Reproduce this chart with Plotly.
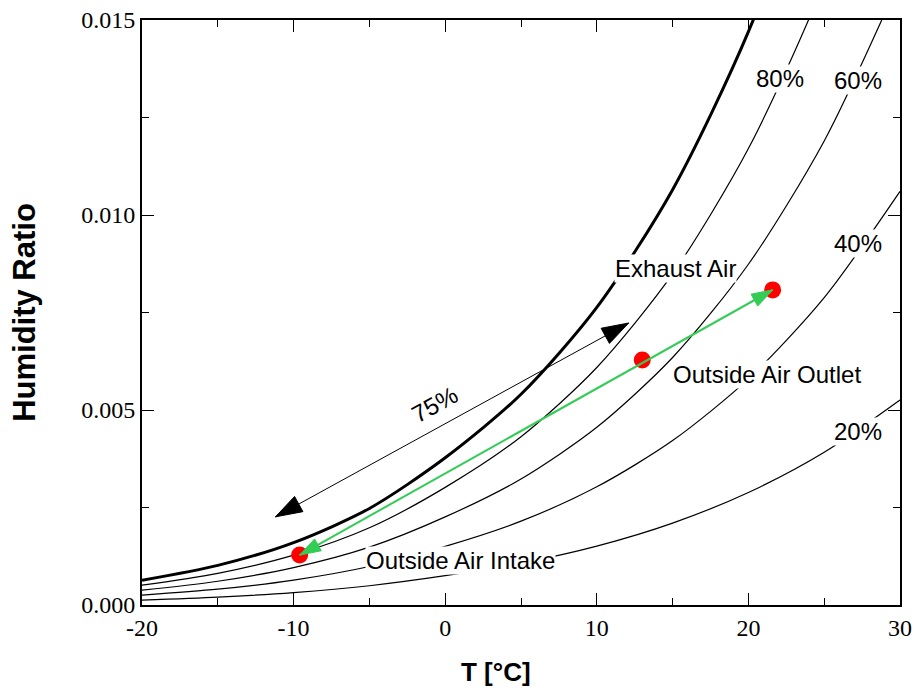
import plotly.graph_objects as go

# Temperatures [°C]
T = [-20, -15, -10, -5, 0, 5, 10, 15, 20, 25, 30]

# Humidity ratio curves
w_100 = [0.000634, 0.001016, 0.001600, 0.002476, 0.003775, 0.005403, 0.007631, 0.010649, 0.014700, 0.020087, 0.027205]
w_80 = [0.000507, 0.000813, 0.001279, 0.001979, 0.003016, 0.004315, 0.006090, 0.008490, 0.011704, 0.015967, 0.021575]
w_60 = [0.000380, 0.000609, 0.000959, 0.001483, 0.002259, 0.003231, 0.004557, 0.006346, 0.008737, 0.011899, 0.016042]
w_40 = [0.000254, 0.000406, 0.000639, 0.000988, 0.001504, 0.002150, 0.003030, 0.004216, 0.005798, 0.007882, 0.010604]
w_20 = [0.000127, 0.000203, 0.000319, 0.000494, 0.000751, 0.001073, 0.001511, 0.002101, 0.002885, 0.003916, 0.005257]

# State points
pt_T = [-9.6, 13.0, 21.6]
pt_w = [0.00128, 0.00628, 0.00808]

# Exhaust arrow (75 %)
arr_T = [-11.2, 12.1]
arr_w = [0.00226, 0.00723]

x_ticks = [-20, -10, 0, 10, 20, 30]
y_ticks = [0.000, 0.005, 0.010, 0.015]

fig = go.Figure()
for w, lw in [(w_100, 3), (w_80, 1.2), (w_60, 1.2), (w_40, 1.2), (w_20, 1.2)]:
    fig.add_trace(go.Scatter(x=T, y=w, mode="lines",
                             line=dict(color="black", width=lw, shape="spline", smoothing=0.8),
                             showlegend=False, hoverinfo="skip"))


def double_arrow(xs, ys, color, lw, head):
    # shaft
    fig.add_trace(go.Scatter(x=xs, y=ys, mode="lines", line=dict(color=color, width=lw),
                             showlegend=False, hoverinfo="skip"))
    # heads: A -> B -> A so each end gets a head oriented along the shaft
    fig.add_trace(go.Scatter(x=[xs[0], xs[1], xs[0]], y=[ys[0], ys[1], ys[0]], mode="markers",
                             marker=dict(symbol="arrow", size=[0, head, head], color=color,
                                         opacity=1, angleref="previous",
                                         line=dict(width=1, color=color)),
                             showlegend=False, hoverinfo="skip"))


double_arrow(arr_T, arr_w, "black", 1, 28)

fig.add_trace(go.Scatter(x=pt_T, y=pt_w, mode="markers",
                         marker=dict(color="#ff0000", size=17, opacity=1, line=dict(width=0)),
                         showlegend=False))

double_arrow([pt_T[0], pt_T[2]], [pt_w[0], pt_w[2]], "#33cc55", 2, 22)

lab_font = dict(family="Liberation Sans, Arial", size=24, color="black")
labels = [
    ("Exhaust Air", 15.2, 0.00864),
    ("Outside Air Outlet", 21.2, 0.00590),
    ("Outside Air Intake", 1.0, 0.00115),
    ("80%", 22.1, 0.01351),
    ("60%", 27.2, 0.01346),
    ("40%", 27.2, 0.00928),
    ("20%", 27.2, 0.00444),
]
for txt, x, y in labels:
    fig.add_annotation(x=x, y=y, text=txt, showarrow=False, font=lab_font,
                       bgcolor="white", borderpad=0)

fig.add_annotation(x=-0.7, y=0.00513, text="75%", showarrow=False, font=lab_font,
                   textangle=-29)

# x-axis title (slightly left of centre, as in the reference)
fig.add_annotation(x=0.467, y=-0.1145, xref="paper", yref="paper", text="<b>T [°C]</b>",
                   showarrow=False, font=dict(family="Liberation Sans, Arial", size=26, color="black"),
                   xanchor="center", yanchor="middle")

tick_font = dict(family="Liberation Serif, Times New Roman", size=24, color="black")
title_font_y = dict(family="Liberation Sans, Arial", size=31, color="black")

fig.update_xaxes(range=[-20, 30], tickvals=x_ticks, ticktext=[str(v) for v in x_ticks],
                 ticks="inside", ticklen=12, tickwidth=1, tickcolor="black",
                 minor=dict(dtick=5, ticks="inside", ticklen=7, tickcolor="black"),
                 showline=True, linecolor="black", linewidth=2, mirror="allticks",
                 showgrid=False, zeroline=False, tickfont=tick_font)
fig.update_yaxes(range=[0, 0.015], tickvals=y_ticks, ticktext=[f"{v:.3f}" for v in y_ticks],
                 ticks="inside", ticklen=12, tickwidth=1, tickcolor="black",
                 minor=dict(dtick=0.0025, ticks="inside", ticklen=7, tickcolor="black"),
                 showline=True, linecolor="black", linewidth=2, mirror="allticks",
                 showgrid=False, zeroline=False, tickfont=tick_font,
                 title=dict(text="<b>Humidity Ratio</b>", font=title_font_y, standoff=36))

fig.update_layout(width=916, height=691, margin=dict(l=142, r=16, t=20, b=86, autoexpand=False),
                  plot_bgcolor="white", paper_bgcolor="white")

fig.write_html("out.html", config={"displayModeBar": False},
               post_script="document.body.style.margin='0px';")
